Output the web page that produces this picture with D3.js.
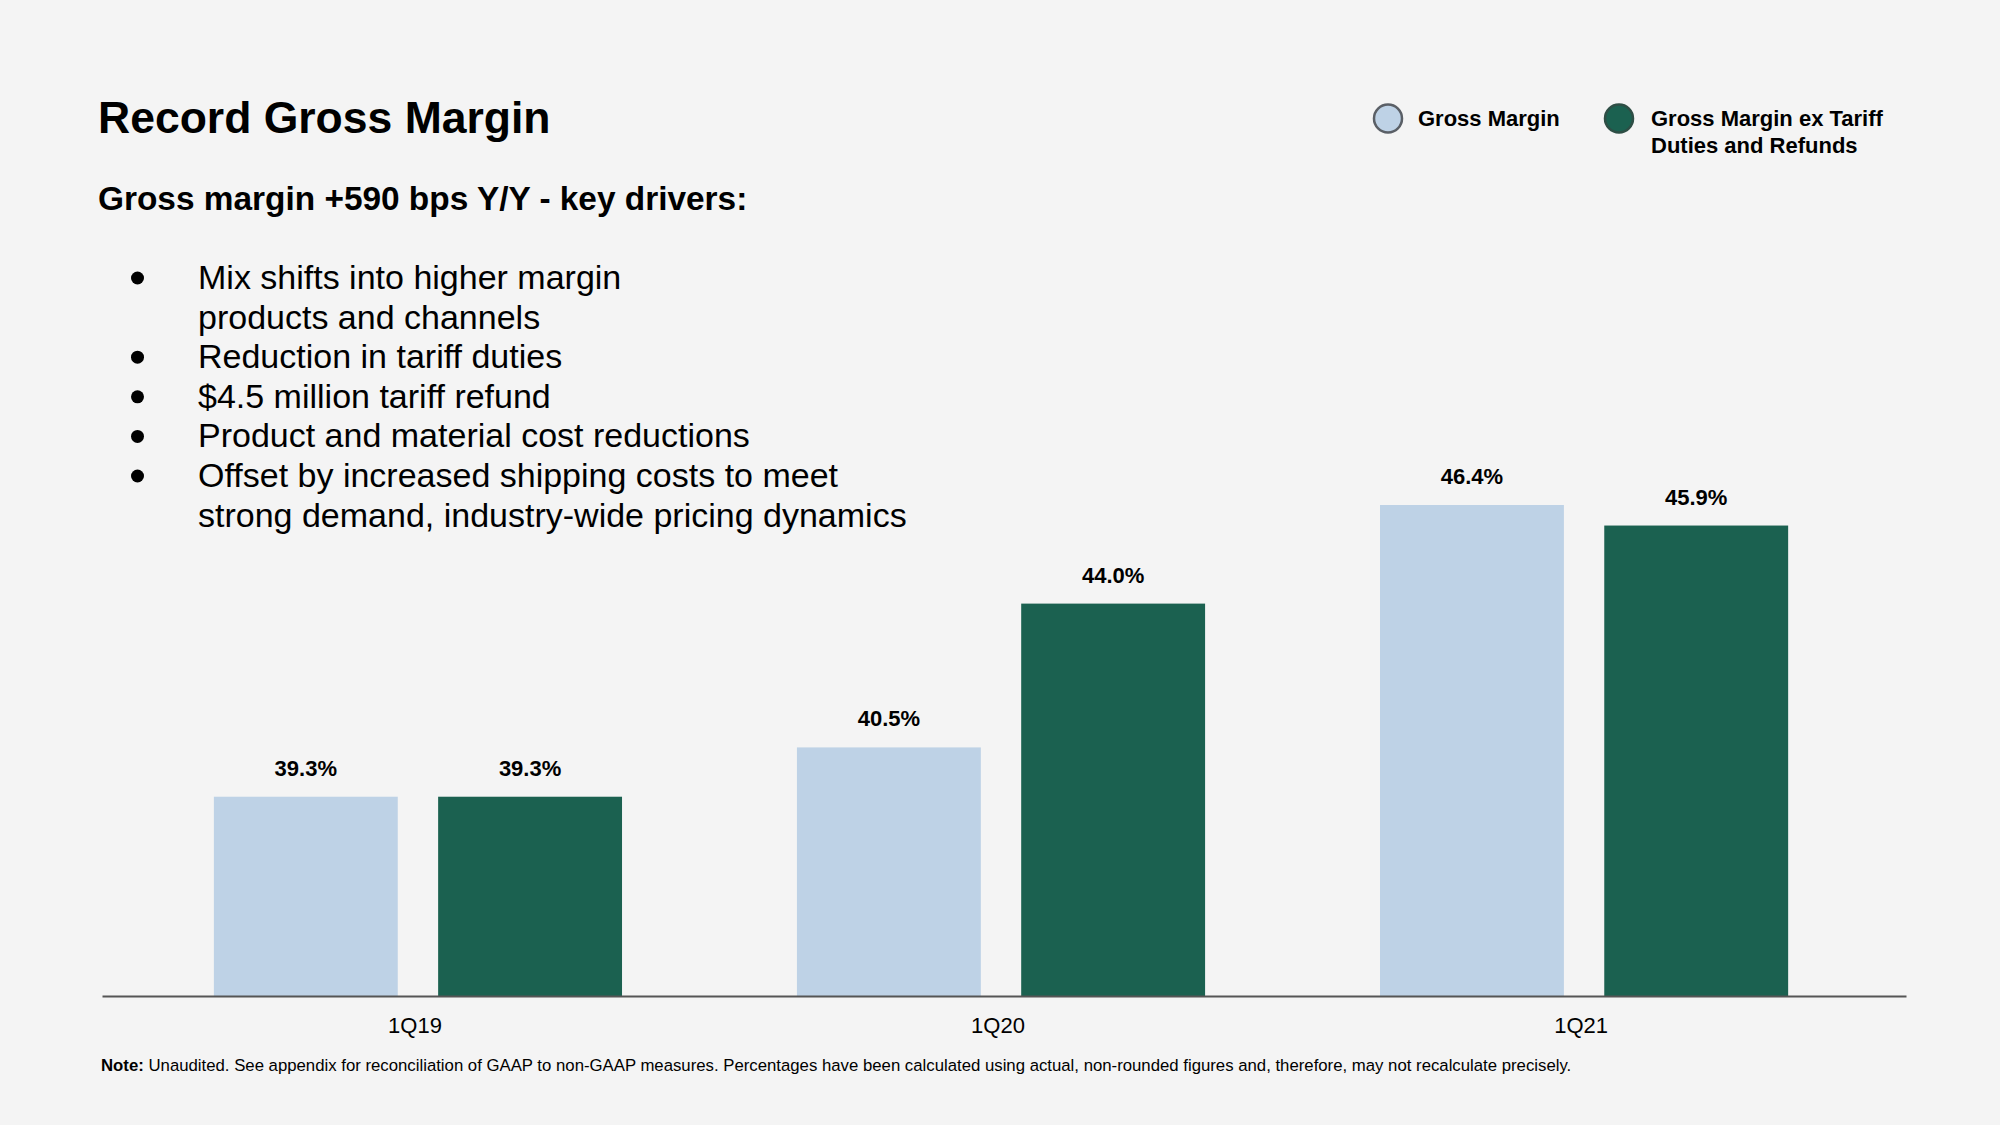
<!DOCTYPE html>
<html>
<head>
<meta charset="utf-8">
<script src="https://cdn.jsdelivr.net/npm/d3@7"></script>
<style>
  html, body { margin: 0; padding: 0; background: #f4f4f4; }
  svg { display: block; }
  text { font-family: "Liberation Sans", Arial, Helvetica, sans-serif; fill: #000; }
</style>
</head>
<body>
<svg id="chart" width="2000" height="1125"></svg>
<script>
// ---- data ----
const categories = ["1Q19", "1Q20", "1Q21"];
const seriesNames = ["Gross Margin", "Gross Margin ex Tariff Duties and Refunds"];
const grossMargin = [39.3, 40.5, 46.4];
const grossMarginExTariff = [39.3, 44.0, 45.9];
const legendLines = [["Gross Margin"], ["Gross Margin ex Tariff", "Duties and Refunds"]];
const titleText = "Record Gross Margin";
const subtitleText = "Gross margin +590 bps Y/Y - key drivers:";
const bullets = [
  ["Mix shifts into higher margin", "products and channels"],
  ["Reduction in tariff duties"],
  ["$4.5 million tariff refund"],
  ["Product and material cost reductions"],
  ["Offset by increased shipping costs to meet", "strong demand, industry-wide pricing dynamics"]
];
const noteBold = "Note:";
const noteText = " Unaudited. See appendix for reconciliation of GAAP to non-GAAP measures. Percentages have been calculated using actual, non-rounded figures and, therefore, may not recalculate precisely.";

const colors = ["#bed2e6", "#1b6150"];

// ---- build ----
const svg = d3.select("#chart");
svg.append("rect").attr("width", 2000).attr("height", 1125).attr("fill", "#f4f4f4");

const rows = categories.map((c, i) => ({ cat: c, values: [grossMargin[i], grossMarginExTariff[i]] }));

const baseY = 996;
const x0 = d3.scaleBand().domain(categories).range([102, 1906]).paddingInner(0.3).paddingOuter(0.197).align(0.487);
const x1 = d3.scaleBand().domain(seriesNames).range([0, x0.bandwidth()]).paddingInner(0.18).paddingOuter(0);
const y = d3.scaleLinear().domain([34.45, 46.4]).range([baseY, 505]);
const fmt = v => d3.format(".1f")(v) + "%";

// title
svg.append("text").attr("x", 98).attr("y", 133).attr("font-size", 44.5).attr("font-weight", "bold").text(titleText);
svg.append("text").attr("x", 98).attr("y", 210).attr("font-size", 33.4).attr("font-weight", "bold").text(subtitleText);

// bullets
let lineIdx = 0;
const bulletG = svg.append("g");
const b0 = 289, lh = 39.6;
bullets.forEach(b => {
  const yy = b0 + lineIdx * lh;
  bulletG.append("circle").attr("cx", 137.5).attr("cy", yy - 11).attr("r", 6.5).attr("fill", "#000");
  b.forEach((ln, j) => {
    bulletG.append("text").attr("x", 198).attr("y", b0 + (lineIdx + j) * lh).attr("font-size", 34).text(ln);
  });
  lineIdx += b.length;
});

// legend
const legendX = [1388, 1619];
legendLines.forEach((lines, i) => {
  svg.append("circle").attr("cx", legendX[i]).attr("cy", 118.5).attr("r", 14)
    .attr("fill", colors[i]).attr("stroke", i === 0 ? "#5a5f66" : "#2e4e45").attr("stroke-width", 2.5);
  lines.forEach((ln, j) => {
    svg.append("text").attr("x", legendX[i] + (i === 0 ? 30 : 32)).attr("y", 126 + j * 27)
      .attr("font-size", 22).attr("font-weight", "bold").text(ln);
  });
});

// bars
const groups = svg.append("g").selectAll("g").data(rows).join("g")
  .attr("transform", d => `translate(${x0(d.cat)},0)`);
groups.selectAll("rect").data(d => d.values.map((v, i) => ({ v, s: seriesNames[i], i })))
  .join("rect")
  .attr("x", d => x1(d.s))
  .attr("width", x1.bandwidth())
  .attr("y", d => y(d.v))
  .attr("height", d => baseY - y(d.v))
  .attr("fill", d => colors[d.i]);
groups.selectAll("text.val").data(d => d.values.map((v, i) => ({ v, s: seriesNames[i], i })))
  .join("text").attr("class", "val")
  .attr("x", d => x1(d.s) + x1.bandwidth() / 2)
  .attr("y", d => y(d.v) - 21)
  .attr("text-anchor", "middle").attr("font-size", 22).attr("font-weight", "bold")
  .text(d => fmt(d.v));

// axis
const axis = svg.append("g").attr("transform", `translate(0,${baseY})`)
  .call(d3.axisBottom(x0).tickSize(0).tickSizeOuter(0).tickPadding(21));
axis.select(".domain").attr("stroke", "#555").attr("stroke-width", 2);
axis.selectAll("text").attr("font-size", 22).attr("fill", "#000").attr("dx", -3)
  .attr("font-family", "'Liberation Sans', Arial, Helvetica, sans-serif");

// note
const note = svg.append("text").attr("x", 101).attr("y", 1071).attr("font-size", 16.75);
note.append("tspan").attr("font-weight", "bold").text(noteBold);
note.append("tspan").text(noteText);
</script>
</body>
</html>
